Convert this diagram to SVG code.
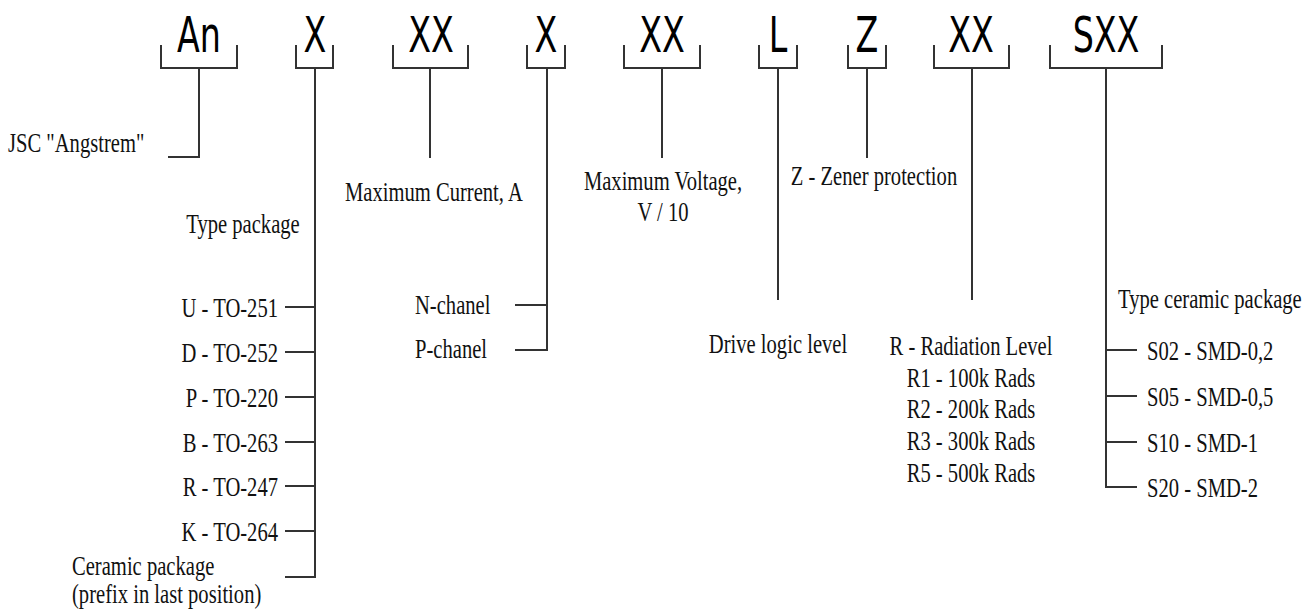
<svg xmlns="http://www.w3.org/2000/svg" width="1306" height="610" viewBox="0 0 1306 610">
<style>
.br{fill:none;stroke:#333;stroke-width:2}
.ln{fill:none;stroke:#333;stroke-width:2}
.code{font-family:"DejaVu Sans Condensed","DejaVu Sans",sans-serif;font-size:37px;fill:#000;text-anchor:middle}
.lb{font-family:"Liberation Serif","Times New Roman",serif;font-size:20.6px;fill:#111}
.m{text-anchor:middle}
.e{text-anchor:end}
</style>
<rect width="1306" height="610" fill="#fff"/>
<g id="code-An"><path class="br" d="M161,45V68H237V45"/><text class="code" transform="translate(199,52) scale(1,1.36)">An</text></g>
<g id="code-X1"><path class="br" d="M296,45V68H333V45"/><text class="code" transform="translate(315,52) scale(1,1.36)">X</text></g>
<g id="code-XX1"><path class="br" d="M393,45V68H468V45"/><text class="code" transform="translate(431,52) scale(1,1.36)">XX</text></g>
<g id="code-X2"><path class="br" d="M527,45V68H565V45"/><text class="code" transform="translate(546,52) scale(1,1.36)">X</text></g>
<g id="code-XX2"><path class="br" d="M624,45V68H700V45"/><text class="code" transform="translate(662,52) scale(1,1.36)">XX</text></g>
<g id="code-L"><path class="br" d="M759,45V68H797V45"/><text class="code" transform="translate(778,52) scale(1,1.36)">L</text></g>
<g id="code-Z"><path class="br" d="M848,45V68H886V45"/><text class="code" transform="translate(867,52) scale(1,1.36)">Z</text></g>
<g id="code-XX3"><path class="br" d="M934,45V68H1009V45"/><text class="code" transform="translate(971,52) scale(1,1.36)">XX</text></g>
<g id="code-SXX"><path class="br" d="M1050,45V68H1162V45"/><text class="code" transform="translate(1106,52) scale(1,1.36)">SXX</text></g>

<g id="connectors">
<path class="ln" d="M199,68V157H168"/>
<path class="ln" d="M315,68V577H285M285,307H315M285,352H315M285,397H315M285,442H315M285,486H315M285,531H315"/>
<path class="ln" d="M430,68V158"/>
<path class="ln" d="M547,68V350H515M515,305H547"/>
<path class="ln" d="M662,68V158"/>
<path class="ln" d="M778,68V300"/>
<path class="ln" d="M867,68V158"/>
<path class="ln" d="M972,68V300"/>
<path class="ln" d="M1106,68V487H1137M1106,350H1137M1106,396H1137M1106,442H1137"/>
</g>

<g id="label-manufacturer"><text class="lb" transform="translate(8,152) scale(1,1.36)">JSC "Angstrem"</text></g>
<g id="label-package">
<text class="lb m" transform="translate(243,233) scale(1,1.36)">Type package</text>
<text class="lb e" transform="translate(278,317) scale(1,1.36)">U - TO-251</text>
<text class="lb e" transform="translate(278,362) scale(1,1.36)">D - TO-252</text>
<text class="lb e" transform="translate(278,407) scale(1,1.36)">P - TO-220</text>
<text class="lb e" transform="translate(278,452) scale(1,1.36)">B - TO-263</text>
<text class="lb e" transform="translate(278,496) scale(1,1.36)">R - TO-247</text>
<text class="lb e" transform="translate(278,541) scale(1,1.36)">K - TO-264</text>
<text class="lb" transform="translate(72,575) scale(1,1.36)">Ceramic package</text>
<text class="lb" transform="translate(72,603) scale(1,1.36)">(prefix in last position)</text>
</g>
<g id="label-current"><text class="lb" transform="translate(345,201) scale(1,1.36)">Maximum Current, A</text></g>
<g id="label-channel">
<text class="lb" transform="translate(415,314) scale(1,1.36)">N-chanel</text>
<text class="lb" transform="translate(415,358) scale(1,1.36)">P-chanel</text>
</g>
<g id="label-voltage">
<text class="lb m" transform="translate(663,190) scale(1,1.36)">Maximum Voltage,</text>
<text class="lb m" transform="translate(663,221) scale(1,1.36)">V / 10</text>
</g>
<g id="label-logic"><text class="lb m" transform="translate(778,353) scale(1,1.36)">Drive logic level</text></g>
<g id="label-zener"><text class="lb m" transform="translate(874,185) scale(1,1.36)">Z - Zener protection</text></g>
<g id="label-radiation">
<text class="lb m" transform="translate(971,355) scale(1,1.36)">R - Radiation Level</text>
<text class="lb m" transform="translate(971,387) scale(1,1.36)">R1 - 100k Rads</text>
<text class="lb m" transform="translate(971,418) scale(1,1.36)">R2 - 200k Rads</text>
<text class="lb m" transform="translate(971,450) scale(1,1.36)">R3 - 300k Rads</text>
<text class="lb m" transform="translate(971,482) scale(1,1.36)">R5 - 500k Rads</text>
</g>
<g id="label-ceramic">
<text class="lb" transform="translate(1118,308) scale(1,1.36)">Type ceramic package</text>
<text class="lb" transform="translate(1147,360) scale(1,1.36)">S02 - SMD-0,2</text>
<text class="lb" transform="translate(1147,406) scale(1,1.36)">S05 - SMD-0,5</text>
<text class="lb" transform="translate(1147,452) scale(1,1.36)">S10 - SMD-1</text>
<text class="lb" transform="translate(1147,497) scale(1,1.36)">S20 - SMD-2</text>
</g>
</svg>
